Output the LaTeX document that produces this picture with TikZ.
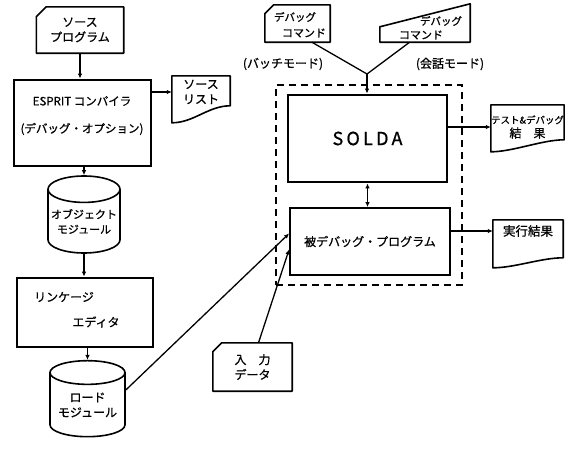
\documentclass[tikz,border=0pt]{standalone}
\usepackage{fontspec}
\setmainfont{Noto Sans CJK JP}[FakeBold=0.8]
\usetikzlibrary{shapes.geometric,arrows.meta,calc}
\newcommand\docshape[3]{\draw[docline] (#1.north west) -- (#1.north east) -- ($(#1.north east)+(0,#2)$) .. controls +(-22,0) and +(22,0) .. ($(#1.north west)+(0,#3)$) -- cycle;}
\newcommand\cardshape[2]{\draw[docline] ($(#1.north west)+(#2,0)$) -- (#1.north east) -- (#1.south east) -- (#1.south west) -- ($(#1.north west)+(0,#2)$) -- cycle;}
\begin{document}
\begin{tikzpicture}[x=1pt,y=-1pt,
  every node/.style={font=\fontsize{12}{15}\selectfont, align=center, inner sep=0pt},
  box/.style={rectangle},
  heavy/.style={draw, line width=2.8pt, rectangle},
  cyl/.style={draw, line width=1.6pt, cylinder, shape border rotate=90, shape aspect=0.4},
  docline/.style={line width=1.6pt, line join=round},
  plain/.style={line width=1.3pt},
  arr/.style={-{Latex[length=5pt,width=4.5pt]}, line width=1.3pt},
  darr/.style={{Latex[length=5pt,width=4.5pt]}-{Latex[length=5pt,width=4.5pt]}, line width=1.3pt}
]
\useasboundingbox (0,0) rectangle (565,450);
% left column
\node[box, minimum width=87pt, minimum height=46pt] (src) at (80,30) {ソース\\プログラム};
\cardshape{src}{10}
\node[heavy, minimum width=137pt, minimum height=86pt] (esp) at (82.5,123) {};
\node[font=\fontsize{11.5}{14}\selectfont] (espa) at (82,101) {ESPRIT コンパイラ};
\node[font=\fontsize{11.5}{14}\selectfont] (espb) at (82,129) {(デバッグ・オプション)};
\node[box, minimum width=58pt, minimum height=32pt] (slist) at (201,92) {ソース\\リスト};
\docshape{slist}{30}{47}
\node[cyl, minimum width=72pt, minimum height=77pt, font=\fontsize{11}{15}\selectfont] (obj) at (84,221.5) {オブジェクト\\モジュール};
\node[heavy, minimum width=136pt, minimum height=69pt] (link) at (85,312.5) {};
\node (linka) at (64,297) {リンケージ};
\node (linkb) at (96,322) {エディタ};
\node[cyl, minimum width=75pt, minimum height=76pt] (load) at (87.5,405) {ロード\\モジュール};
% right part
\node[box, minimum width=65pt, minimum height=37pt] (batch) at (297.5,23.5) {};
\cardshape{batch}{9}
\node[font=\fontsize{10.5}{12}\selectfont] (batcha) at (295,17) {デバッグ};
\node[font=\fontsize{11}{12}\selectfont] (batchb) at (304,33) {コマンド};
\node[box, minimum width=90pt, minimum height=38pt] (conv) at (425,23) {};
\draw[docline] ($(conv.north west)+(0,23)$) -- (conv.north east) -- (conv.south east) -- (conv.south west) -- cycle;
\node[font=\fontsize{10.5}{12}\selectfont] (conva) at (441,21) {デバッグ};
\node[font=\fontsize{11}{12}\selectfont] (convb) at (421,35) {コマンド};
\node (lbat) at (283,64) {(バッチモード)};
\node (lconv) at (450,64) {(会話モード)};
\coordinate (j) at (367,74);
\node[draw, line width=1.5pt, dash pattern=on 7pt off 5pt, minimum width=186pt, minimum height=200pt] (dbox) at (369,185) {};
\node[heavy, minimum width=159pt, minimum height=87pt, font=\fontsize{18}{20}\selectfont\addfontfeature{LetterSpace=18}] (solda) at (367.5,138.5) {SOLDA};
\node[draw, line width=1.8pt, minimum width=160pt, minimum height=67pt, font=\fontsize{12}{14}\selectfont] (prog) at (370,241.5) {被デバッグ・プログラム};
\node[box, minimum width=69pt, minimum height=44pt, font=\fontsize{9.5}{14}\selectfont] (test) at (527.5,127) {テスト\&デバッグ\\{\fontsize{12}{14}\selectfont 結　果}};
\docshape{test}{35}{47}
\node[box, minimum width=70pt, minimum height=22pt, font=\fontsize{12.5}{14}\selectfont] (exec) at (528,231) {実行結果};
\docshape{exec}{38}{48}
\node[box, minimum width=79pt, minimum height=48pt] (input) at (252.5,367) {入　力\\データ};
\cardshape{input}{9}
% connectors
\draw[arr] (src.south) -- (src.south |- esp.north);
\draw[arr] (obj.north |- esp.south) -- (obj.north);
\draw[arr] (obj.south) -- (obj.south |- link.north);
\draw[arr] (load.north |- link.south) -- (load.north);
\draw[arr] (slist.west -| esp.east) -- (slist.west);
\draw[plain] ($(batch.south west)!0.72!(batch.south east)$) -- (j);
\draw[plain] ($(conv.south west)!0.33!(conv.south east)$) -- (j);
\draw[arr] (j) -- (j |- solda.north);
\draw[arr] (test.west -| solda.east) -- (test.west);
\draw[darr] (solda.south) -- (solda.south |- prog.north);
\draw[arr] (exec.west -| prog.east) -- (exec.west);
\draw[arr] ($(load.east)+(0,-15)$) -- ($(prog.west)+(0,-8)$);
\draw[arr] ($(input.north)+(6,0)$) -- ($(prog.west)+(0,8)$);
\end{tikzpicture}
\end{document}
